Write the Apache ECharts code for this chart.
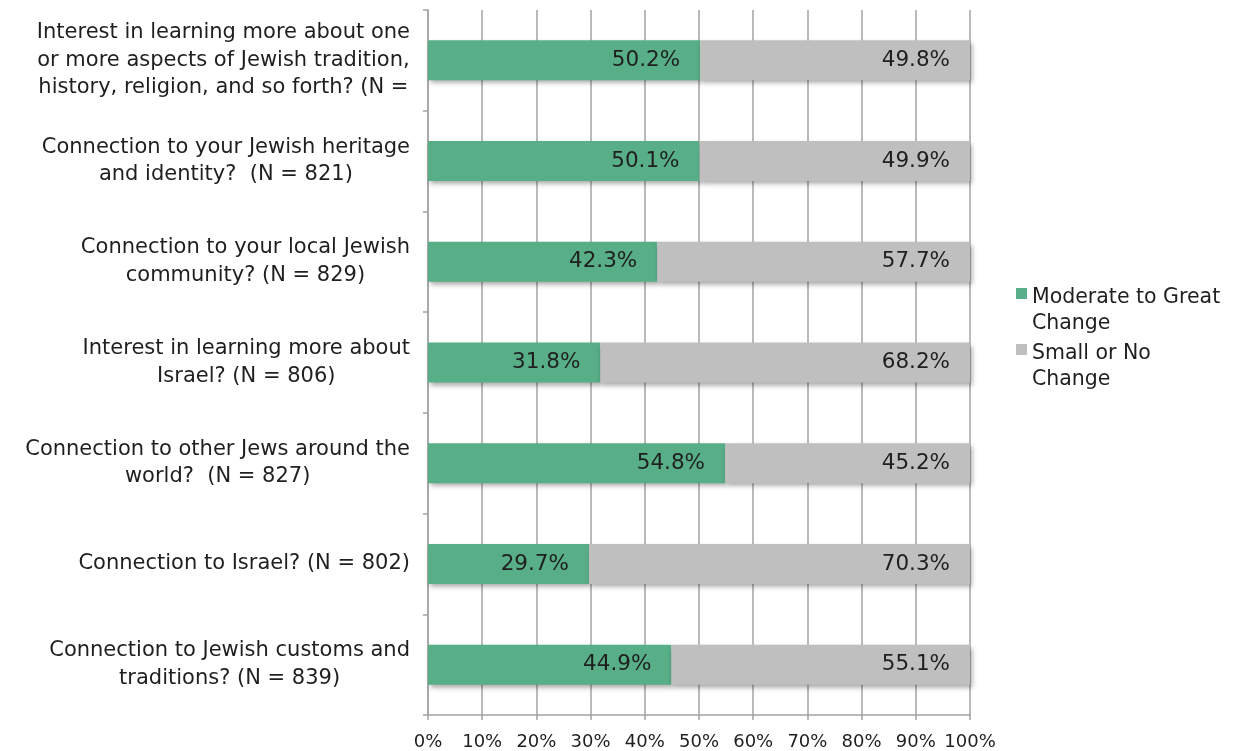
<!DOCTYPE html>
<html>
<head>
<meta charset="utf-8">
<script src="https://cdn.jsdelivr.net/npm/echarts@6/dist/echarts.min.js"></script>
<style>
  html, body { margin: 0; padding: 0; background: #ffffff; }
  #chart { width: 1239px; height: 751px; }
</style>
</head>
<body>
<div id="chart"></div>
<script>
// Survey items, listed top to bottom (wrapped as they appear beside the bars)
const categories = [
  'Interest in learning more about one\nor more aspects of Jewish tradition,\nhistory, religion, and so forth? (N =',
  'Connection to your Jewish heritage\nand identity?  (N = 821)',
  'Connection to your local Jewish\ncommunity? (N = 829)',
  'Interest in learning more about\nIsrael? (N = 806)',
  'Connection to other Jews around the\nworld?  (N = 827)',
  'Connection to Israel? (N = 802)',
  'Connection to Jewish customs and\ntraditions? (N = 839)'
];

// Share of respondents (%) per item
const moderateToGreat = [50.2, 50.1, 42.3, 31.8, 54.8, 29.7, 44.9];
const smallOrNone = [49.8, 49.9, 57.7, 68.2, 45.2, 70.3, 55.1];

const seriesNames = ['Moderate to Great Change', 'Small or No Change'];
const legendLines = {
  'Moderate to Great Change': ['Moderate to Great', 'Change'],
  'Small or No Change': ['Small or No', 'Change']
};

// Percentage axis
const axisMin = 0;
const axisMax = 100;
const axisStep = 10;

const FONT = '"DejaVu Sans", sans-serif';
const TEXT = '#1f1f1f';
const GRID_GREY = '#a3a3a3';

const barShadow = {
  shadowColor: 'rgba(0,0,0,0.35)',
  shadowBlur: 5,
  shadowOffsetX: 2,
  shadowOffsetY: 3
};

const valueLabel = {
  show: true,
  position: 'insideRight',
  distance: 20,
  color: TEXT,
  fontFamily: FONT,
  fontSize: 21.5,
  formatter: p => Number(p.value).toFixed(1) + '%'
};

const chart = echarts.init(document.getElementById('chart'), null, { renderer: 'canvas' });

chart.setOption({
  animation: false,
  backgroundColor: '#ffffff',
  textStyle: { fontFamily: FONT },
  grid: { left: 428, right: 269, top: 10, bottom: 36, containLabel: false },
  legend: {
    orient: 'vertical',
    left: 1011,
    top: 245,
    icon: 'rect',
    itemWidth: 11,
    itemHeight: 11,
    itemGap: -31,
    data: seriesNames,
    // two-line entries; the top padding drops the text so the swatch sits beside the first line
    formatter: name => legendLines[name].map(l => '{t|' + l + '}').join('\n'),
    textStyle: {
      color: TEXT,
      fontFamily: FONT,
      fontSize: 20.5,
      lineHeight: 26,
      padding: [35, 0, 0, 0],
      rich: {
        t: { color: TEXT, fontFamily: FONT, fontSize: 20.5, lineHeight: 26 }
      }
    }
  },
  xAxis: {
    type: 'value',
    min: axisMin,
    max: axisMax,
    interval: axisStep,
    axisLine: { show: true, lineStyle: { color: GRID_GREY, width: 1.5 } },
    axisTick: { show: true, length: 5, lineStyle: { color: GRID_GREY, width: 1.5 } },
    splitLine: { show: true, lineStyle: { color: GRID_GREY, width: 1.5 } },
    axisLabel: {
      color: TEXT,
      fontFamily: FONT,
      fontSize: 18,
      margin: 18,
      formatter: v => v + '%'
    }
  },
  yAxis: {
    type: 'category',
    inverse: true,
    data: categories,
    axisLine: { show: true, lineStyle: { color: GRID_GREY, width: 1.5 } },
    axisTick: { show: true, length: 5, lineStyle: { color: GRID_GREY, width: 1.5 } },
    axisLabel: {
      align: 'right',
      margin: 18,
      color: TEXT,
      fontFamily: FONT,
      fontSize: 21,
      lineHeight: 27.5,
      formatter: v => v.split('\n').map(line => '{c|' + line + '}').join('\n'),
      rich: {
        c: { align: 'center', color: TEXT, fontFamily: FONT, fontSize: 21, lineHeight: 27.5 }
      }
    }
  },
  series: [
    {
      name: seriesNames[0],
      type: 'bar',
      stack: 'share',
      barWidth: 40,
      data: moderateToGreat,
      itemStyle: Object.assign({ color: '#57ae87' }, barShadow),
      label: valueLabel
    },
    {
      name: seriesNames[1],
      type: 'bar',
      stack: 'share',
      barWidth: 40,
      data: smallOrNone,
      itemStyle: Object.assign({ color: '#bfbfbf' }, barShadow),
      label: valueLabel
    }
  ]
});
</script>
</body>
</html>
